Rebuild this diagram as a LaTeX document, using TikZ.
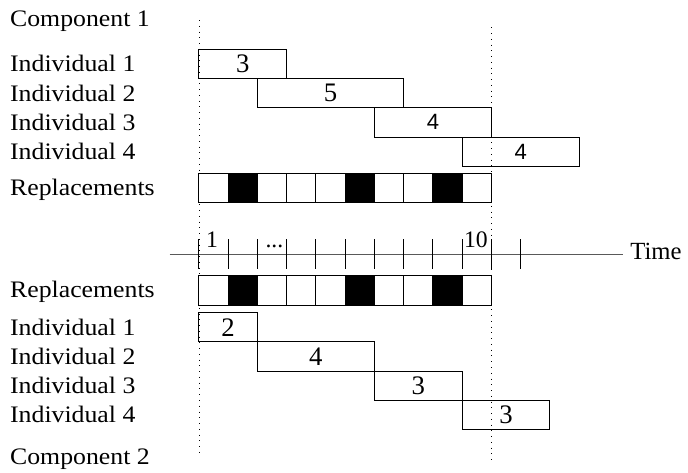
\documentclass[tikz,border=0pt]{standalone}
\usepackage{fontspec}
\setmainfont{Liberation Serif}
\newfontfamily\lblfont{Liberation Serif}[FakeStretch=1.09]
\newfontfamily\numsans{Liberation Sans}
\tikzset{
  lbl/.style={anchor=base west,inner sep=0pt,font=\lblfont\fontsize{23}{26}\selectfont},
  job/.style={draw,rectangle,anchor=south west,outer sep=0pt,inner sep=0pt,minimum height=1cm,line width=1pt,font=\fontsize{26}{30}\selectfont},
  sansjob/.style={job,font=\numsans\fontsize{21.5}{25}\selectfont},
  cell/.style={draw,rectangle,anchor=south west,outer sep=0pt,inner sep=0pt,minimum width=1cm,minimum height=1cm,line width=1pt},
  guide/.style={line width=0.8pt,dash pattern=on 0.8pt off 4.8pt},
  axisline/.style={line width=1pt,black!65},
  tickmark/.style={line width=0.9pt},
  ticklbl/.style={inner sep=0pt,font=\fontsize{23}{26}\selectfont},
}
\begin{document}
\begin{tikzpicture}
\useasboundingbox (-6.80,-7.453) rectangle (16.72,8.684);

\coordinate (g1t) at (0,8);
\coordinate (g1b) at (0,-6.9);
\coordinate (g2t) at (10,7.75);
\coordinate (g2b) at (10,-7.15);
\draw[guide] (g1t) -- (g1b);
\draw[guide] (g2t) -- (g2b);

% component 1
\node[lbl] (comp1) at (-6.46,7.77) {Component 1};
\node[lbl] (ind1a) at (-6.46,6.23) {Individual 1};
\node[lbl] (ind2a) at (-6.46,5.23) {Individual 2};
\node[lbl] (ind3a) at (-6.46,4.23) {Individual 3};
\node[lbl] (ind4a) at (-6.46,3.23) {Individual 4};
\node[lbl] (repla) at (-6.46,2.0) {Replacements};

\node[job,minimum width=3cm] (life1a) at (0,6) {3};
\node[job,minimum width=5cm] (life2a) at (2,5) {5};
\node[sansjob,minimum width=4cm] (life3a) at (6,4) {4};
\node[sansjob,minimum width=4cm] (life4a) at (9,3) {4};

\foreach \i/\c in {0/white,1/black,2/white,3/white,4/white,5/black,6/white,7/white,8/black,9/white}
  \node[cell,fill=\c] (ra\i) at (\i,1.75) {};

% time axis
\coordinate (ax0) at (-1,0);
\coordinate (ax1) at (14.5,0);
\draw[axisline] (ax0) -- (ax1);
\node[anchor=west,inner sep=0pt,font=\fontsize{24}{27}\selectfont] (time) at (14.74,0.1) {Time};
\foreach \i in {0,...,11}
  \draw[tickmark] (\i,0.5) -- (\i,-0.5);
\node[ticklbl] (t1) at (0.45,0.5) {1};
\node[ticklbl] (tdots) at (2.58,0.27) {...};
\node[ticklbl] (t10) at (9.47,0.5) {10};

% component 2
\node[lbl] (replb) at (-6.46,-1.5) {Replacements};
\node[lbl] (ind1b) at (-6.46,-2.77) {Individual 1};
\node[lbl] (ind2b) at (-6.46,-3.77) {Individual 2};
\node[lbl] (ind3b) at (-6.46,-4.77) {Individual 3};
\node[lbl] (ind4b) at (-6.46,-5.77) {Individual 4};
\node[lbl] (comp2) at (-6.46,-7.2) {Component 2};

\foreach \i/\c in {0/white,1/black,2/white,3/white,4/white,5/black,6/white,7/white,8/black,9/white}
  \node[cell,fill=\c] (rb\i) at (\i,-1.75) {};

\node[job,minimum width=2cm] (life1b) at (0,-3) {2};
\node[job,minimum width=4cm] (life2b) at (2,-4) {4};
\node[job,minimum width=3cm] (life3b) at (6,-5) {3};
\node[job,minimum width=3cm] (life4b) at (9,-6) {3};
\end{tikzpicture}
\end{document}
